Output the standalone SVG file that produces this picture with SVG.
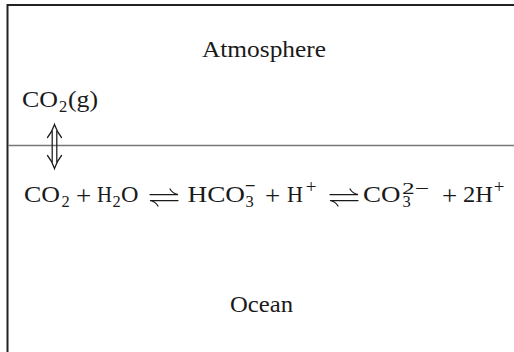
<svg xmlns="http://www.w3.org/2000/svg" width="514" height="352" viewBox="0 0 514 352">
<style>
text{font-family:"Liberation Serif","Times New Roman",serif;fill:#1a1a1a}
.m{font-size:23.5px}
.s{font-size:16.5px}
.p{font-size:27px;text-anchor:middle}
.sp{font-size:19px;text-anchor:middle}
.mn{font-family:"DejaVu Serif",serif;font-size:14px}
.arr{fill:none;stroke:#1a1a1a;stroke-width:1.25;stroke-linecap:round}
</style>
<rect width="514" height="352" fill="#fff"/>
<g id="frame">
<path d="M7.5,352 V5 H514" fill="none" stroke="#222" stroke-width="2"/>
</g>
<g id="surface">
<line x1="8" y1="145.5" x2="514" y2="145.5" stroke="#777" stroke-width="1.4"/>
</g>
<g id="atmosphere">
<text class="m" x="202" y="57" textLength="124" lengthAdjust="spacingAndGlyphs">Atmosphere</text>
</g>
<g id="ocean">
<text class="m" x="230" y="312" textLength="63" lengthAdjust="spacingAndGlyphs">Ocean</text>
</g>
<g id="co2gas">
<text class="m" x="22" y="107" textLength="36" lengthAdjust="spacingAndGlyphs">CO</text>
<text class="s" x="59" y="112">2</text>
<text class="m" x="68" y="107" textLength="30" lengthAdjust="spacingAndGlyphs">(g)</text>
</g>
<g id="connectors">
<g id="exchange-arrow" class="arr">
<path d="M52.2,131 V162 M56.8,131 V162"/>
<path d="M47.5,137.5 Q52,132 54.5,124.5 Q57,132 61.5,137.5"/>
<path d="M47.5,155.5 Q52,161 54.5,168.5 Q57,161 61.5,155.5"/>
</g>
</g>
<g id="equation" transform="translate(-5,2)">
<text class="m" x="29" y="200" textLength="36" lengthAdjust="spacingAndGlyphs">CO</text>
<text class="s" x="66.5" y="204.5">2</text>
<text class="p" x="88.5" y="202.5">+</text>
<text class="m" x="102" y="200" textLength="15" lengthAdjust="spacingAndGlyphs">H</text>
<text class="s" x="117.5" y="204.5">2</text>
<text class="m" x="126" y="200" textLength="17.5" lengthAdjust="spacingAndGlyphs">O</text>
<g class="arr">
<path d="M155,192.5 H183 Q177.5,191.5 175,187"/>
<path d="M183,198.5 H155 Q160.5,199.5 163,204"/>
</g>
<text class="m" x="192.5" y="200" textLength="57.5" lengthAdjust="spacingAndGlyphs">HCO</text>
<text x="250.5" y="205" class="s">3<tspan class="mn" x="249.5" y="187.5">−</tspan></text>
<text class="p" x="277.5" y="202.5">+</text>
<text class="m" x="292" y="200" textLength="16" lengthAdjust="spacingAndGlyphs">H</text>
<text class="sp" x="316" y="191">+</text>
<g class="arr">
<path d="M335,192.5 H363 Q357.5,191.5 355,187"/>
<path d="M363,198.5 H335 Q340.5,199.5 343,204"/>
</g>
<text class="m" x="368" y="200" textLength="37.5" lengthAdjust="spacingAndGlyphs">CO</text>
<text class="s" x="407.5" y="205">3<tspan x="407" y="191.5" textLength="27" lengthAdjust="spacingAndGlyphs">2−</tspan></text>
<text class="p" x="454.5" y="202.5">+</text>
<text class="m" x="468" y="200" textLength="30" lengthAdjust="spacingAndGlyphs">2H</text>
<text class="sp" x="504" y="191">+</text>
</g>
</svg>
